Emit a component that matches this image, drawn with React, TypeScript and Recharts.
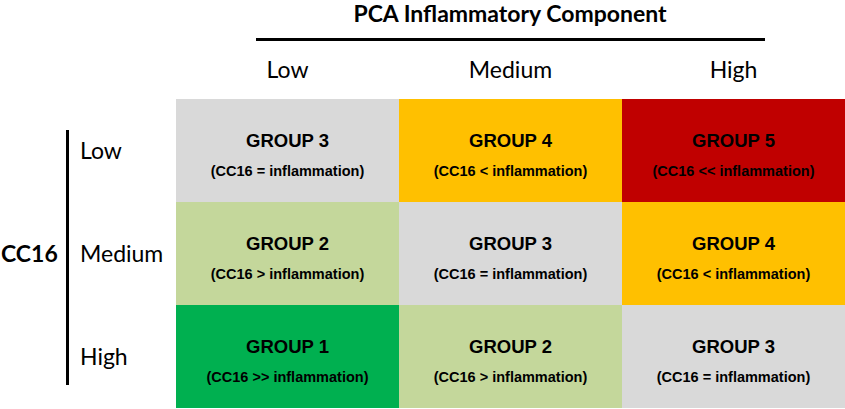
import { BarChart, Bar, XAxis, YAxis, Cell, LabelList } from "recharts";

// PCA inflammatory component levels (columns) and CC16 levels (rows)
const pcaLevels = ["Low", "Medium", "High"];
const cc16Levels = ["Low", "Medium", "High"];

// group number of each cell, row = CC16 level, column = PCA level
const groupGrid = [
  [3, 4, 5],
  [2, 3, 4],
  [1, 2, 3],
];

// relation sign of each cell
const relationGrid = [
  ["=", "<", "<<"],
  [">", "=", "<"],
  [">>", ">", "="],
];

const groupColors: Record<number, string> = {
  1: "#00B050",
  2: "#C4D79B",
  3: "#D9D9D9",
  4: "#FFC000",
  5: "#C00000",
};

const W = 845;
const H = 409;
const labelFont = "Lato, 'Open Sans', sans-serif";
const cellFont = "'Liberation Sans', Arial, sans-serif";

// every row holds one unit per column so the stack fills the grid
const chartData = cc16Levels.map((level) => ({
  level,
  c0: 1,
  c1: 1,
  c2: 1,
}));

const cellLabel = (col: number) => (props: any) => {
  const { x, y, width, height, index } = props;
  const cx = Number(x) + Number(width) / 2;
  const cy = Number(y) + Number(height) / 2;
  return (
    <g>
      <text
        x={cx}
        y={cy - 10}
        textAnchor="middle"
        dominantBaseline="central"
        fontFamily={cellFont}
        fontWeight={700}
        fontSize={18.5}
        fill="#000"
      >
        {`GROUP ${groupGrid[index][col]}`}
      </text>
      <text
        x={cx}
        y={cy + 20}
        textAnchor="middle"
        dominantBaseline="central"
        fontFamily={cellFont}
        fontWeight={700}
        fontSize={14.5}
        fill="#000"
      >
        {`(CC16 ${relationGrid[index][col]} inflammation)`}
      </text>
    </g>
  );
};

export default function App() {
  return (
    <div style={{ position: "relative", width: W, height: H, background: "#fff", overflow: "hidden" }}>
      <style>{"body{margin:0}"}</style>
      <div
        style={{
          position: "absolute",
          left: 510,
          top: 2,
          transform: "translateX(-50%)",
          whiteSpace: "nowrap",
          fontFamily: labelFont,
          fontWeight: 700,
          fontSize: 23,
          lineHeight: "23px",
        }}
      >
        PCA Inflammatory Component
      </div>
      <div style={{ position: "absolute", left: 256, top: 38, width: 509, height: 3, background: "#000" }} />
      <div style={{ position: "absolute", left: 66, top: 130, width: 3, height: 255, background: "#000" }} />
      <BarChart
        width={W}
        height={H}
        data={chartData}
        layout="vertical"
        barCategoryGap={0}
        barGap={0}
        margin={{ top: 59, right: 0, bottom: 1, left: 0 }}
      >
        <XAxis
          type="number"
          orientation="top"
          domain={[0, 3]}
          ticks={[0.5, 1.5, 2.5]}
          tickFormatter={(v: number) => pcaLevels[Math.floor(v)]}
          height={40}
          axisLine={false}
          tickLine={false}
          tickSize={0}
          tickMargin={21}
          tick={{ fill: "#000", fontSize: 23, fontFamily: labelFont }}
        />
        <YAxis
          type="category"
          dataKey="level"
          width={176}
          axisLine={false}
          tickLine={false}
          tickSize={0}
          tickMargin={96}
          tick={{ fill: "#000", fontSize: 23, fontFamily: labelFont, textAnchor: "start" }}
          label={{
            value: "CC16",
            position: "insideLeft",
            offset: 1,
            style: { fill: "#000", fontSize: 23, fontWeight: 700, fontFamily: labelFont },
          }}
        />
        {["c0", "c1", "c2"].map((key, col) => (
          <Bar key={key} dataKey={key} stackId="grid" isAnimationActive={false}>
            {chartData.map((_, row) => (
              <Cell key={row} fill={groupColors[groupGrid[row][col]]} />
            ))}
            <LabelList dataKey={key} content={cellLabel(col)} />
          </Bar>
        ))}
      </BarChart>
    </div>
  );
}
